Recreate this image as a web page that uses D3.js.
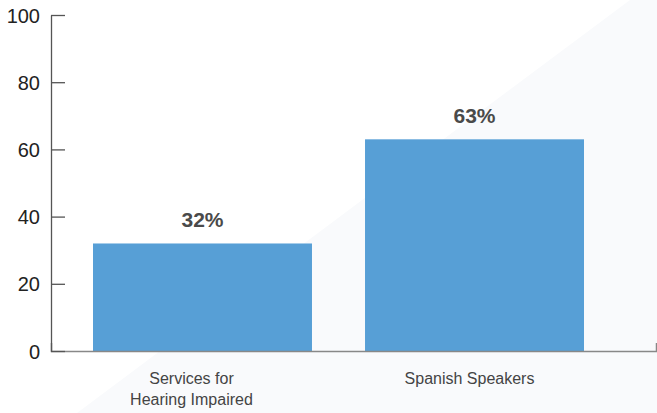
<!DOCTYPE html>
<html>
<head>
<meta charset="utf-8">
<script src="https://cdn.jsdelivr.net/npm/d3@7"></script>
<style>
  html, body { margin: 0; padding: 0; background: #ffffff; }
  svg { display: block; }
</style>
</head>
<body>
<svg id="chart" width="657" height="413"></svg>
<script>
// Data
const categories = [["Services for", "Hearing Impaired"], ["Spanish Speakers"]];
const values = [32, 63];
const yTicks = [0, 20, 40, 60, 80, 100];

const width = 657, height = 413;
const axisLeft = 51, axisRightEnd = 656;
const svg = d3.select("#chart");

// Soft diagonal backdrop across the lower-right
svg.append("rect").attr("width", width).attr("height", height).attr("fill", "#ffffff");
svg.append("path")
  .attr("d", `M77,${height} L630,0 L${width},0 L${width},${height} Z`)
  .attr("fill", "#f9fafc");

const x = d3.scaleBand()
  .domain(d3.range(values.length))
  .range([93, 584])
  .paddingInner(0.195)
  .paddingOuter(0);

const y = d3.scaleLinear()
  .domain([0, 100])
  .range([351, 15]);

// Bars
svg.append("g").selectAll("rect")
  .data(values)
  .join("rect")
  .attr("x", (d, i) => x(i))
  .attr("width", x.bandwidth())
  .attr("y", d => y(d))
  .attr("height", d => y(0) - y(d))
  .attr("fill", "#579fd6");

// Value labels
svg.append("g").selectAll("text")
  .data(values)
  .join("text")
  .attr("x", (d, i) => x(i) + x.bandwidth() / 2)
  .attr("y", d => y(d) - 16.5)
  .attr("text-anchor", "middle")
  .attr("font-family", "Liberation Sans, Arial, sans-serif")
  .attr("font-weight", "bold")
  .attr("font-size", 21)
  .attr("fill", "#4a4a4a")
  .text(d => d + "%");

// X axis baseline with a short upward end tick
const xAxis = svg.append("g")
  .attr("transform", `translate(0,${y(0)})`)
  .call(d3.axisBottom(d3.scaleLinear().range([axisLeft, axisRightEnd]))
    .tickValues([]).tickSizeOuter(-8));
xAxis.select(".domain").attr("stroke", "#888888").attr("stroke-width", 1.5);

// Category labels, centred slightly left of each bar
const labelShift = [-11, -5];
const catG = svg.append("g");
categories.forEach((lines, i) => {
  const cx = x(i) + x.bandwidth() / 2 + labelShift[i];
  const t = catG.append("text")
    .attr("y", y(0) + 33)
    .attr("text-anchor", "middle")
    .attr("font-family", "Liberation Sans, Arial, sans-serif")
    .attr("font-size", 16)
    .attr("fill", "#444444");
  lines.forEach((ln, j) => {
    t.append("tspan").attr("x", cx).attr("dy", j === 0 ? 0 : 21).text(ln);
  });
});

// Y axis with ticks pointing into the plot
const yAxis = svg.append("g")
  .attr("transform", `translate(${axisLeft},0)`)
  .call(d3.axisRight(y).tickValues(yTicks).tickSize(14).tickSizeOuter(0));
yAxis.select(".domain").attr("stroke", "#555555").attr("stroke-width", 1.3);
yAxis.selectAll(".tick line").attr("stroke", "#555555").attr("stroke-width", 1.3);
yAxis.selectAll(".tick text")
  .attr("x", -11)
  .attr("dy", "0.35em")
  .attr("text-anchor", "end")
  .attr("font-family", "Liberation Sans, Arial, sans-serif")
  .attr("font-size", 20)
  .attr("fill", "#222222");
</script>
</body>
</html>
